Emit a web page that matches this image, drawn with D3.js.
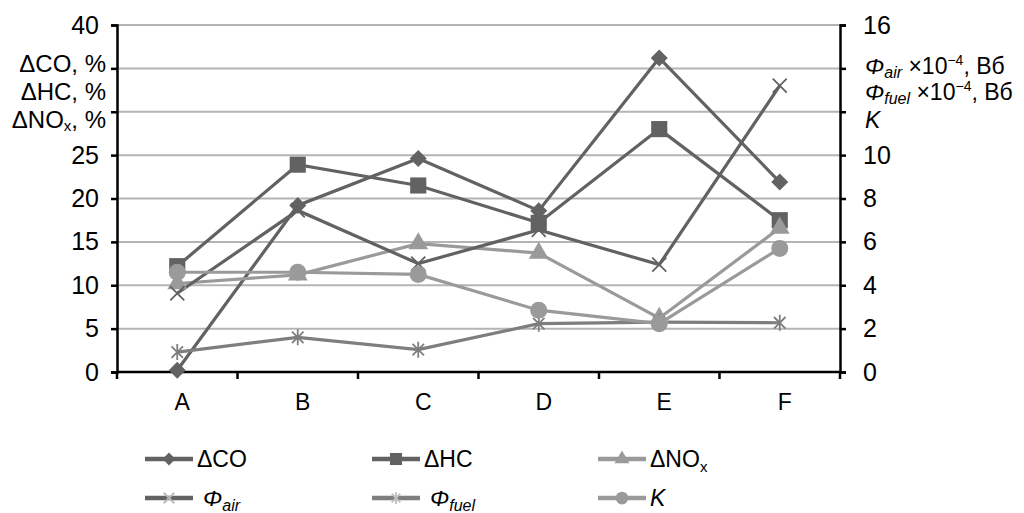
<!DOCTYPE html>
<html>
<head>
<meta charset="utf-8">
<script src="https://cdn.jsdelivr.net/npm/d3@7"></script>
<style>
body { margin: 0; background: #fff; }
svg { font-family: Arial, "Liberation Sans", sans-serif; }
</style>
</head>
<body>
<svg width="1024" height="513"></svg>
<script>
// data
var categories = ["A", "B", "C", "D", "E", "F"];
var dCO   = [0.2, 19.2, 24.6, 18.6, 36.2, 21.9];   // left axis, %
var dHC   = [12.2, 23.9, 21.5, 17.2, 28.0, 17.5];
var dNOx  = [10.2, 11.2, 14.8, 13.7, 6.2, 16.6];
var phiAir  = [3.63, 7.45, 5.0, 6.55, 4.95, 13.2]; // right axis
var phiFuel = [0.92, 1.6, 1.03, 2.23, 2.3, 2.27];
var kVals   = [4.6, 4.6, 4.5, 2.85, 2.23, 5.7];
var leftTicks = [0, 5, 10, 15, 20, 25, 30, 35, 40];
var rightTicks = [0, 2, 4, 6, 8, 10, 12, 14, 16];
// labels hidden where the axis titles sit
var leftShown = [0, 5, 10, 15, 20, 25, 40];
var rightShown = [0, 2, 4, 6, 8, 10, 16];

var svg = d3.select("svg");
var x0 = 117, x1 = 840, yTop = 25, yBot = 372;

var x = d3.scaleBand().domain(categories).range([x0, x1]);
var yL = d3.scaleLinear().domain([0, 40]).range([yBot, yTop]);
var yR = d3.scaleLinear().domain([0, 16]).range([yBot, yTop]);

var dark = "#626262", mid = "#7e7e7e", light = "#9a9a9a";

// gridlines
svg.append("g").selectAll("line")
    .data(leftTicks.slice(1))
    .enter().append("line")
    .attr("x1", x0).attr("x2", x1)
    .attr("y1", function(d) { return yL(d); })
    .attr("y2", function(d) { return yL(d); })
    .style("stroke", "#b4b4b4")
    .style("stroke-width", 2);

// axes
var gL = svg.append("g").attr("transform", "translate(" + x0 + ",0)")
    .call(d3.axisLeft(yL).tickValues(leftTicks).tickSize(6).tickPadding(12)
        .tickFormat(function(d) { return leftShown.indexOf(d) >= 0 ? d : ""; }));
var gR = svg.append("g").attr("transform", "translate(" + x1 + ",0)")
    .call(d3.axisRight(yR).tickValues(rightTicks).tickSize(6).tickPadding(17)
        .tickFormat(function(d) { return rightShown.indexOf(d) >= 0 ? d : ""; }));
var gX = svg.append("g").attr("transform", "translate(0," + yBot + ")")
    .call(d3.axisBottom(x).tickSize(0).tickPadding(22));

// category separators on x axis
svg.append("g").selectAll("line")
    .data(d3.range(categories.length + 1))
    .enter().append("line")
    .attr("x1", function(i) { return x0 + i * x.bandwidth(); })
    .attr("x2", function(i) { return x0 + i * x.bandwidth(); })
    .attr("y1", yBot).attr("y2", yBot + 7)
    .style("stroke", "#000").style("stroke-width", 2.5);

[gL, gR, gX].forEach(function(g) {
    g.selectAll(".domain").attr("stroke", "#000").attr("stroke-width", 2.5);
    g.selectAll(".tick line").attr("stroke", "#000").attr("stroke-width", 2.5);
    g.selectAll("text").attr("font-size", 25).attr("fill", "#000")
        .attr("font-family", "Arial, 'Liberation Sans', sans-serif");
});
gX.selectAll("text").attr("font-size", 23).attr("dx", 5);
gX.select(".domain").attr("d", "M" + x0 + ",0H" + x1);

// axis titles
var leftTitle = svg.append("g").attr("font-size", 24).attr("text-anchor", "end");
leftTitle.append("text").attr("x", 106).attr("y", 72).text("ΔCO, %");
leftTitle.append("text").attr("x", 106).attr("y", 100).text("ΔHC, %");
var t3 = leftTitle.append("text").attr("x", 106).attr("y", 128);
t3.append("tspan").text("ΔNO");
t3.append("tspan").attr("font-size", 15).attr("dy", 3).text("x");
t3.append("tspan").attr("dy", -3).text(", %");

var rightTitle = svg.append("g").attr("font-size", 23);
function phiLabel(y, sub) {
    var t = rightTitle.append("text").attr("x", 865).attr("y", y);
    t.append("tspan").attr("font-style", "italic").text("Φ");
    t.append("tspan").attr("font-style", "italic").attr("font-size", 16).attr("dy", 4).text(sub);
    t.append("tspan").attr("dy", -4).text(" ×10");
    t.append("tspan").attr("font-size", 14).attr("dy", -9).text("−4");
    t.append("tspan").attr("dy", 9).text(", Вб");
}
phiLabel(74, "air");
phiLabel(100, "fuel");
rightTitle.append("text").attr("x", 865).attr("y", 128)
    .attr("font-style", "italic").text("K");

// series
var series = [
    { name: "dCO",  vals: dCO,  y: yL, color: dark,  marker: "diamond" },
    { name: "dHC",  vals: dHC,  y: yL, color: dark,  marker: "square" },
    { name: "dNOx", vals: dNOx, y: yL, color: light, marker: "triangle" },
    { name: "phiAir",  vals: phiAir,  y: yR, color: dark, marker: "x" },
    { name: "phiFuel", vals: phiFuel, y: yR, color: mid,  marker: "star" },
    { name: "K",       vals: kVals,   y: yR, color: light, marker: "circle" }
];

function drawMarker(g, type, color, markColor, scale) {
    scale = scale || 1;
    if (type == "diamond") {
        g.append("path").attr("d", d3.symbol(d3.symbolDiamond2, 185 * scale * scale)())
            .style("fill", color);
    } else if (type == "square") {
        g.append("path").attr("d", d3.symbol(d3.symbolSquare, 260 * scale * scale)())
            .style("fill", color);
    } else if (type == "triangle") {
        g.append("path").attr("d", d3.symbol(d3.symbolTriangle, 170 * scale * scale)())
            .style("fill", color);
    } else if (type == "circle") {
        g.append("circle").attr("r", 8.5 * scale).style("fill", color);
    } else if (type == "x") {
        var s = 7 * scale;
        g.append("path").attr("d", "M" + -s + "," + -s + "L" + s + "," + s + "M" + -s + "," + s + "L" + s + "," + -s)
            .style("stroke", markColor).style("stroke-width", 1.8).style("fill", "none");
    } else if (type == "star") {
        var s = 8 * scale, p = s * 0.72;
        g.append("path").attr("d", "M" + -p + "," + -p + "L" + p + "," + p + "M" + -p + "," + p + "L" + p + "," + -p + "M0," + -s + "L0," + s)
            .style("stroke", markColor).style("stroke-width", 1.8).style("fill", "none");
    }
}

var line = d3.line();
series.forEach(function(s) {
    var pts = s.vals.map(function(v, i) {
        return [x(categories[i]) + x.bandwidth() / 2, s.y(v)];
    });
    svg.append("path")
        .attr("d", line(pts))
        .style("fill", "none")
        .style("stroke", s.color)
        .style("stroke-width", 3.2);
    s.pts = pts;
});
series.forEach(function(s) {
    s.pts.forEach(function(p) {
        var g = svg.append("g").attr("transform", "translate(" + p[0] + "," + p[1] + ")");
        drawMarker(g, s.marker, s.color, s.color);
    });
});

// legend
var legendItems = [
    { label: ["ΔCO"], marker: "diamond", color: dark, mark: dark, col: 0, row: 0 },
    { label: ["ΔHC"], marker: "square", color: dark, mark: dark, col: 1, row: 0 },
    { label: ["ΔNO", "x"], marker: "triangle", color: light, mark: light, col: 2, row: 0 },
    { label: ["Φ", "air"], marker: "x", color: dark, mark: "#b8b8b8", col: 0, row: 1, italic: true },
    { label: ["Φ", "fuel"], marker: "star", color: mid, mark: "#c0c0c0", col: 1, row: 1, italic: true },
    { label: ["K"], marker: "circle", color: light, mark: light, col: 2, row: 1, italic: true }
];
var colX = [145, 372, 598], rowY = [459, 498];
legendItems.forEach(function(d) {
    var lx = colX[d.col], ly = rowY[d.row];
    svg.append("line").attr("x1", lx).attr("x2", lx + 48).attr("y1", ly).attr("y2", ly)
        .style("stroke", d.color).style("stroke-width", 4.5);
    var g = svg.append("g").attr("transform", "translate(" + (lx + 24) + "," + ly + ")");
    drawMarker(g, d.marker, d.color, d.mark, 0.75);
    var t = svg.append("text").attr("x", lx + (d.row == 1 && d.label.length > 1 ? 58 : 52))
        .attr("y", ly + 8).attr("font-size", 23);
    if (d.italic) t.attr("font-style", "italic");
    t.append("tspan").text(d.label[0]);
    if (d.label.length > 1) {
        t.append("tspan").attr("font-size", d.italic ? 16 : 15).attr("dy", 5).text(d.label[1]);
    }
});
</script>
</body>
</html>
